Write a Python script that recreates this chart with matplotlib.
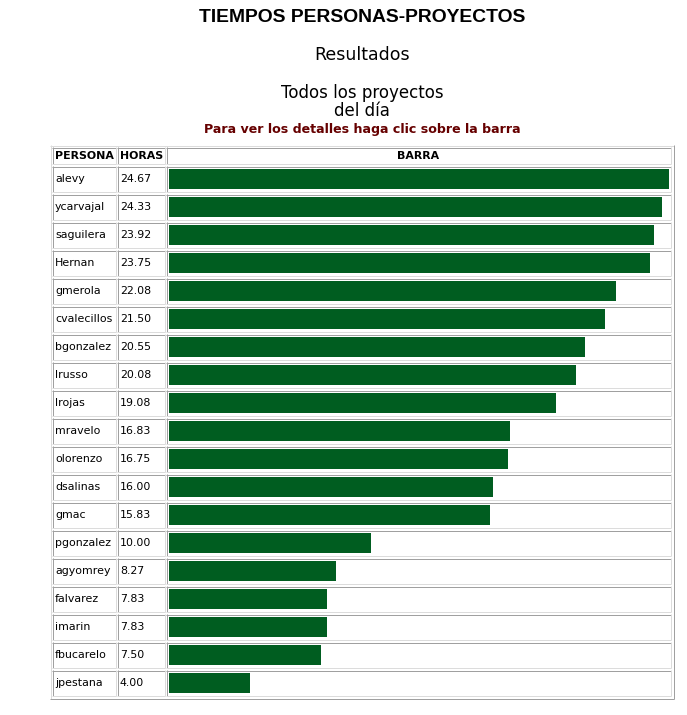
import matplotlib.pyplot as plt
import numpy as np

personas = ["alevy", "ycarvajal", "saguilera", "Hernan", "gmerola", "cvalecillos",
            "bgonzalez", "lrusso", "lrojas", "mravelo", "olorenzo", "dsalinas",
            "gmac", "pgonzalez", "agyomrey", "falvarez", "imarin", "fbucarelo", "jpestana"]
horas = [24.67, 24.33, 23.92, 23.75, 22.08, 21.50, 20.55, 20.08, 19.08, 16.83,
         16.75, 16.00, 15.83, 10.00, 8.27, 7.83, 7.83, 7.50, 4.00]
encabezados = ["PERSONA", "HORAS", "BARRA"]

W, H = 687, 715
OSCURO = "#a0a0a0"
CLARO = "#dcdcdc"
VERDE = "#005d20"
PX = 72 / 100  # 1 pixel en puntos


def linea(ax, x0, y0, x1, y1, color):
    ax.plot([x0, x1], [y0, y1], color=color, lw=PX, solid_capstyle="butt")


def celda(ax, x0, y0, x1, y1):
    # borde "inset": arriba/izquierda oscuro, abajo/derecha claro
    linea(ax, x0 + 0.5, y0, x0 + 0.5, y1, OSCURO)
    linea(ax, x0, y0 + 0.5, x1, y0 + 0.5, OSCURO)
    linea(ax, x1 - 0.5, y0, x1 - 0.5, y1, CLARO)
    linea(ax, x0, y1 - 0.5, x1, y1 - 0.5, CLARO)


def main():
    fig = plt.figure(figsize=(W / 100, H / 100), dpi=100)
    fondo = fig.add_axes([0, 0, 1, 1])
    fondo.set_xlim(0, W)
    fondo.set_ylim(H, 0)
    fondo.axis("off")

    fondo.text(362, 17, "TIEMPOS PERSONAS-PROYECTOS", ha="center", va="center",
               fontsize=13.9, fontweight="bold", family="Liberation Sans")
    fondo.text(362, 55, "Resultados", ha="center", va="center", fontsize=12.5,
               family="DejaVu Sans")
    fondo.text(362, 93, "Todos los proyectos", ha="center", va="center", fontsize=12,
               family="DejaVu Sans")
    fondo.text(362, 111, "del día", ha="center", va="center", fontsize=12,
               family="DejaVu Sans")
    fondo.text(362, 130, "Para ver los detalles haga clic sobre la barra", ha="center",
               va="center", fontsize=9.1, fontweight="bold", color="#660000",
               family="DejaVu Sans")

    # tabla exterior (borde "outset")
    tx0, ty0, tx1, ty1 = 50, 145, 674, 699
    linea(fondo, tx0 + 0.5, ty0, tx0 + 0.5, ty1, CLARO)
    linea(fondo, tx0, ty0 + 0.5, tx1, ty0 + 0.5, CLARO)
    linea(fondo, tx1 - 0.5, ty0, tx1 - 0.5, ty1, OSCURO)
    linea(fondo, tx0, ty1 - 0.5, tx1, ty1 - 0.5, OSCURO)

    columnas = [(52, 116), (117, 165), (166, 671)]

    # encabezado
    for (cx0, cx1), enc in zip(columnas, encabezados):
        celda(fondo, cx0, 147, cx1, 164)
        if enc == "BARRA":
            fondo.text((cx0 + cx1) / 2, 156, enc, ha="center", va="center",
                       fontsize=7.9, fontweight="bold", family="DejaVu Sans")
        else:
            fondo.text(cx0 + 3, 156, enc, ha="left", va="center",
                       fontsize=7.9, fontweight="bold", family="DejaVu Sans")

    # filas
    paso = 28
    y_ini = 166
    for i, (nombre, h) in enumerate(zip(personas, horas)):
        y0 = y_ini + i * paso
        y1 = y0 + 26
        for cx0, cx1 in columnas:
            celda(fondo, cx0, y0, cx1, y1)
        yc = y0 + 12.5
        fondo.text(columnas[0][0] + 3, yc, nombre, ha="left", va="center",
                   fontsize=7.9, family="DejaVu Sans")
        fondo.text(columnas[1][0] + 3, yc, f"{h:.2f}", ha="left", va="center",
                   fontsize=7.9, family="DejaVu Sans")

    # barras
    n = len(personas)
    bx0, bx1 = 168.5, 669
    by0 = y_ini - 1
    by1 = by0 + n * paso
    ax = fig.add_axes([bx0 / W, 1 - by1 / H, (bx1 - bx0) / W, (by1 - by0) / H])
    ax.barh(np.arange(n), horas, height=20 / paso, color=VERDE, left=0)
    ax.set_xlim(0, max(horas))
    ax.set_ylim(n - 0.5, -0.5)
    ax.axis("off")
    ax.patch.set_alpha(0)

    fig.savefig("out.png", dpi=100, facecolor="white")


if __name__ == "__main__":
    main()
